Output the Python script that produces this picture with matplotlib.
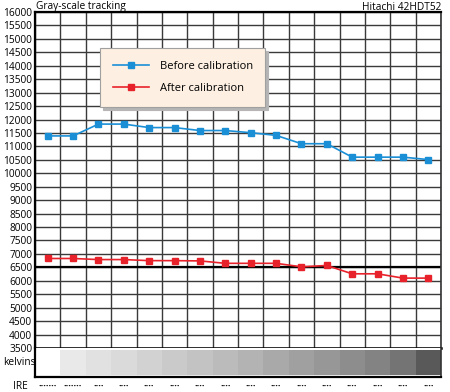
import numpy as np
import matplotlib
matplotlib.use('Agg')
import matplotlib.pyplot as plt

plt.rcParams['font.family'] = ['Open Sans', 'DejaVu Sans']

# data
steps = np.arange(1, 17)
before_cal = [11390, 11390, 11830, 11830, 11700, 11700, 11590, 11590,
              11510, 11410, 11100, 11100, 10600, 10600, 10600, 10510]
after_cal = [6830, 6830, 6790, 6790, 6750, 6750, 6740, 6650,
             6650, 6650, 6520, 6570, 6260, 6260, 6100, 6100]
y_ticks = list(range(3500, 16001, 500))
target_k = 6500
ire_marks = ['\u00b7' * 7, '\u00b7' * 7] + ['\u00b7' * 4] * 14

# swatch shades for the kelvins strip (first one is blank)
swatch = ['#ffffff', '#e9e9e9', '#e1e1e1', '#dadada', '#d2d2d2', '#cacaca',
          '#c3c3c3', '#bbbbbb', '#b3b3b3', '#a9a9a9', '#a0a0a0', '#979797',
          '#8d8d8d', '#838383', '#747474', '#595959']

blue = '#1b8fd6'
red = '#e8222b'
grid_c = '#3a3a3a'

fig = plt.figure(figsize=(4.5, 3.92), dpi=100)
W, H = 450, 392
x0, x1 = 35, 441
ytop, ybot = 12, 348
ax = fig.add_axes([x0 / W, 1 - ybot / H, (x1 - x0) / W, (ybot - ytop) / H])

ax.set_xlim(0.5, 16.5)
ax.set_ylim(3500, 16000)

# grid
for xv in np.arange(0.5, 17, 1):
    ax.axvline(xv, color=grid_c, lw=1.0, zorder=1)
for yv in y_ticks:
    ax.axhline(yv, color=grid_c, lw=1.0, zorder=1)
ax.axhline(target_k, color='black', lw=1.6, zorder=2)

ax.plot(steps, before_cal, color=blue, lw=1.2, marker='s', ms=4.3,
        label='Before calibration', zorder=3)
ax.plot(steps, after_cal, color=red, lw=1.2, marker='s', ms=4.3,
        label='After calibration', zorder=3)

ax.set_xticks([])
ax.set_yticks(y_ticks)
ax.set_yticklabels([str(v) for v in y_ticks], fontsize=7.3)
ax.tick_params(axis='y', length=0, pad=2)
for s in ['left', 'top']:
    ax.spines[s].set_color('black')
    ax.spines[s].set_linewidth(1.6)
ax.spines['bottom'].set_linewidth(1.8)
ax.spines['right'].set_color('#333333')
ax.spines['right'].set_linewidth(1.2)

leg = ax.legend(loc='upper left', bbox_to_anchor=(0.16, 0.793, 0.406, 0.1),
                mode='expand', fontsize=8.0, frameon=True, fancybox=False,
                shadow={'color': '#b5b5b5', 'alpha': 1}, facecolor='#fdf0e2',
                edgecolor='#a0a0a0', framealpha=1, handlelength=3.2,
                handletextpad=1.0, borderpad=1.2, labelspacing=0.95,
                borderaxespad=0)
leg.get_frame().set_linewidth(0.8)
leg.set_zorder(5)

fig.text(x0 / W + 0.002, 1 - 9.5 / H, 'Gray-scale tracking', fontsize=7.3,
         va='baseline', ha='left')
fig.text(x1 / W, 1 - 9.5 / H, 'Hitachi 42HDT52', fontsize=7.3,
         va='baseline', ha='right')

# kelvins strip
bx = fig.add_axes([x0 / W, 1 - 377 / H, (x1 - x0) / W, 29 / H])
bx.set_xlim(0.5, 16.5)
bx.set_ylim(0, 1)
bx.bar(steps, [0.86] * 16, width=1.0, bottom=0.07, color=swatch, lw=0)
bx.set_xticks([])
bx.set_yticks([])
bx.spines['left'].set_linewidth(1.6)
bx.spines['bottom'].set_linewidth(1.6)
bx.spines['top'].set_visible(False)
bx.spines['right'].set_color('#333333')
bx.spines['right'].set_linewidth(1.2)
fig.text(3 / W, 1 - 365 / H, 'kelvins', fontsize=7.3, va='baseline', ha='left')

# IRE row
fig.text(28 / W, 1 - 389 / H, 'IRE', fontsize=7.3, va='baseline', ha='right')
for i, m in zip(steps, ire_marks):
    bx.text(i, -0.32, m, ha='center', va='center', fontsize=7,
            fontweight='bold', color='#111111')

fig.savefig('out.png', dpi=100)
